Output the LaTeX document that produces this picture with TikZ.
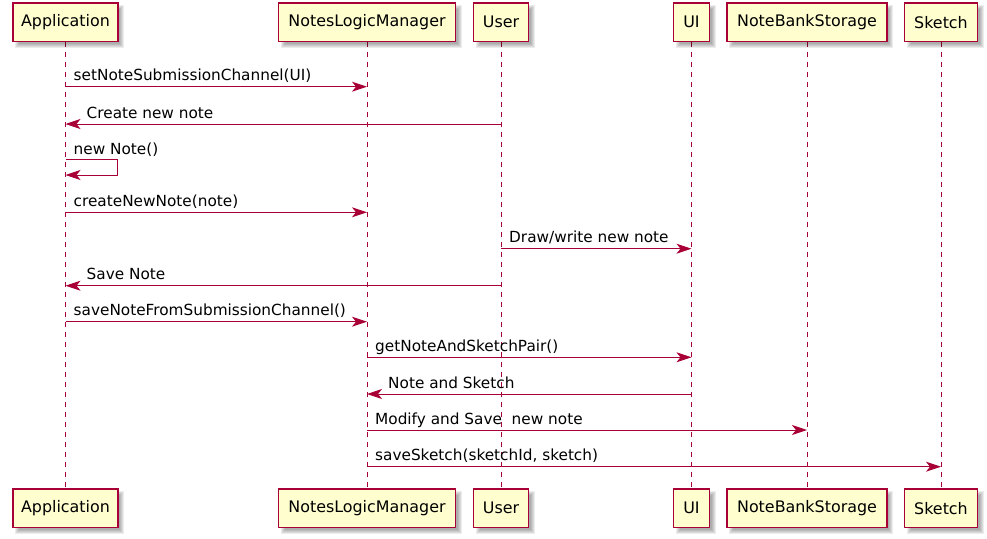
\documentclass[tikz,border=0pt]{standalone}
\usepackage{fontspec}
\setmainfont{DejaVu Sans}
\usetikzlibrary{arrows.meta}
\definecolor{pborder}{HTML}{A80036}
\definecolor{pfill}{HTML}{FEFECE}
\newcommand\msgR[5]{%
  \draw[msg] (#1T |- 0,#3) -- (#2T |- 0,#3);
  \node[lbl] (#5) at ([xshift=8pt]#1T |- 0,#3-6) {#4};}
\newcommand\msgL[5]{%
  \draw[msg] (#1T |- 0,#3) -- (#2T |- 0,#3);
  \node[lbl] (#5) at ([xshift=21pt]#2T |- 0,#3-6) {#4};}
\begin{document}
\begin{tikzpicture}[x=1pt,y=-1pt,
  part/.style={draw=pborder, fill=pfill, line width=1.4pt, minimum height=38.5pt,
    inner sep=0pt, font=\fontsize{15.9}{18}\selectfont},
  shadowlayer/.style={fill=black, opacity=0.075},
  lifeline/.style={draw=pborder, line width=1pt, dash pattern=on 5pt off 5pt},
  msg/.style={draw=pborder, line width=1pt, -{Stealth[length=15pt,width=10pt,inset=4pt]}},
  lbl/.style={font=\fontsize{15.3}{18}\selectfont, anchor=base west, inner sep=0pt}]
\useasboundingbox (0,0) rectangle (987,538);
\foreach \n/\x/\w/\t in {app/65.5/105/Application, nlm/367/177/NotesLogicManager,
    usr/501/55/User, ui/691.5/36/UI, nbs/807/160/NoteBankStorage, sk/941/73/Sketch} {
  \coordinate (\n LT) at (\x,42);
  \coordinate (\n LB) at (\x,489);
  \draw[lifeline] (\n LT) -- (\n LB);
  \foreach \k in {-2,-1,0,1,2} {
    \fill[shadowlayer] (\x-\w/2+4+\k, 3+4+\k) rectangle (\x+\w/2+4-\k, 41.5+4-\k);
    \fill[shadowlayer] (\x-\w/2+4+\k, 489+4+\k) rectangle (\x+\w/2+4-\k, 527.5+4-\k);
  }
  \node[part, minimum width=\w pt] (\n T) at (\x,22.25) {\t};
  \node[part, minimum width=\w pt] (\n B) at (\x,508.25) {\t};
}
\msgR{app}{nlm}{86.7}{setNoteSubmissionChannel(UI)}{m1}
\msgL{usr}{app}{124}{Create new note}{m2}
\node[lbl] (m3) at ([xshift=8pt]appT |- 0,154) {new Note()};
\draw[msg] (appT |- 0,159.3) -- ++(52,0) -- ++(0,15.7) -- (appT |- 0,175);
\msgR{app}{nlm}{212.3}{createNewNote(note)}{m4}
\msgR{usr}{ui}{248.7}{Draw/write new note}{m5}
\msgL{usr}{app}{285.7}{Save Note}{m6}
\msgR{app}{nlm}{321.7}{saveNoteFromSubmissionChannel()}{m7}
\msgR{nlm}{ui}{357.3}{getNoteAndSketchPair()}{m8}
\msgL{ui}{nlm}{394}{Note and Sketch}{m9}
\msgR{nlm}{nbs}{430}{Modify and Save\ \ new note}{m10}
\msgR{nlm}{sk}{466.7}{saveSketch(sketchId, sketch)}{m11}
\end{tikzpicture}
\end{document}
